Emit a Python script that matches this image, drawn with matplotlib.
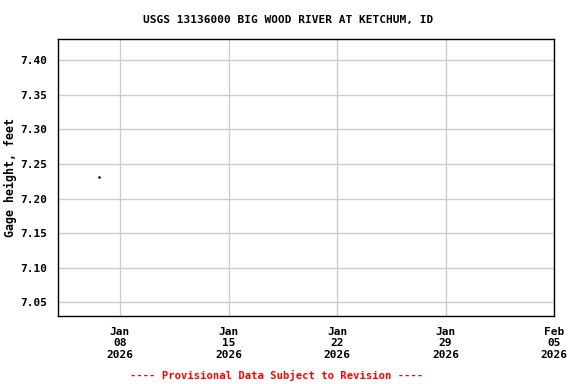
import matplotlib
matplotlib.use("Agg")
import matplotlib.pyplot as plt
import pandas as pd

# gage height readings
times = pd.to_datetime(["2026-01-06 15:30"])
gage_ft = [7.231]

xticks = pd.to_datetime(["2026-01-08", "2026-01-15", "2026-01-22", "2026-01-29", "2026-02-05"])
yticks = [7.05, 7.10, 7.15, 7.20, 7.25, 7.30, 7.35, 7.40]

font = "DejaVu Sans Mono"

fig = plt.figure(figsize=(5.76, 3.84), dpi=100)
ax = fig.add_axes([58 / 576, 1 - 316 / 384, (554 - 58) / 576, (316 - 39) / 384])

ax.plot(times, gage_ft, linestyle="none", marker="s", markersize=0.8, color="#000080")

ax.set_xlim(pd.Timestamp("2026-01-04 00:00"), pd.Timestamp("2026-02-05 00:00"))
ax.set_ylim(7.030, 7.431)
ax.set_xticks(xticks)
ax.set_xticklabels([d.strftime("%b\n%d\n%Y") for d in xticks], fontfamily=font,
                   fontweight="bold", fontsize=8, linespacing=1.15)
ax.set_yticks(yticks)
ax.set_yticklabels([f"{v:.2f}" for v in yticks], fontfamily=font,
                   fontweight="bold", fontsize=8)
ax.tick_params(axis="x", length=0, pad=8)
ax.tick_params(axis="y", length=0, pad=8)
ax.grid(True, color="#cccccc", linewidth=1)
ax.set_axisbelow(True)
for s in ax.spines.values():
    s.set_linewidth(1)

ax.set_ylabel("Gage height, feet", fontfamily=font, fontweight="bold", fontsize=8.4)
ax.yaxis.set_label_coords(-41 / 496, 0.5)
fig.text(0.5, 1 - 20 / 384, "USGS 13136000 BIG WOOD RIVER AT KETCHUM, ID", ha="center",
         va="center", fontfamily=font, fontweight="bold", fontsize=8)
fig.text(277 / 576, 1 - 375 / 384, "---- Provisional Data Subject to Revision ----", ha="center",
         va="center", fontfamily=font, fontweight="bold", fontsize=7.6, color="red")

fig.savefig("out.png", dpi=100)
